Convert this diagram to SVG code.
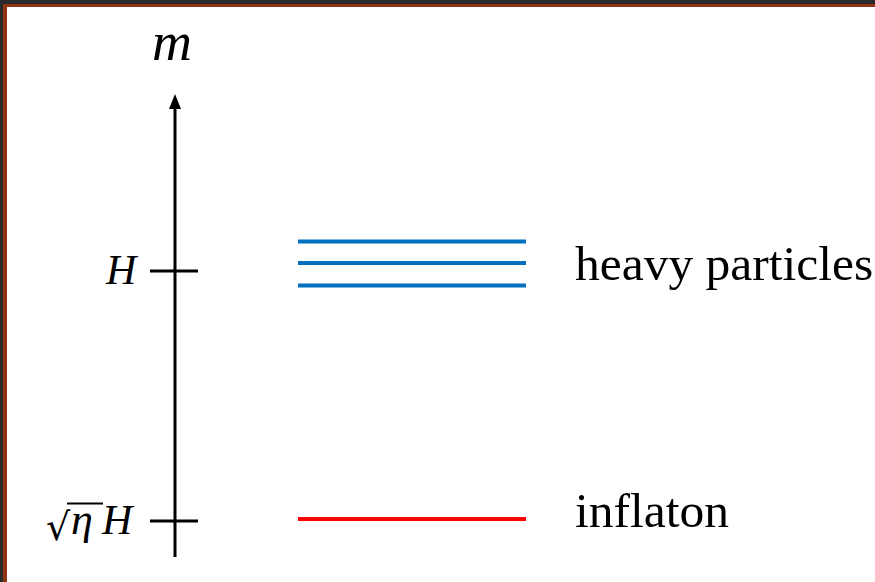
<svg xmlns="http://www.w3.org/2000/svg" width="875" height="582" viewBox="0 0 875 582">
  <style>
    .ax { stroke: #000; stroke-width: 3; fill: none; }
    .heavy { stroke: #0070C0; stroke-width: 4; }
    .infl { stroke: #FF0000; stroke-width: 4; }
    .lbl { font-family: "Liberation Serif", "DejaVu Serif", serif; font-size: 49.5px; fill: #000; }
    .math { font-family: "Liberation Serif", "DejaVu Serif", serif; font-style: italic; fill: #000; }
  </style>
  <rect x="0" y="0" width="875" height="582" fill="#2a2a2a"/>
  <rect x="3" y="4" width="872" height="578" fill="#8f3413"/>
  <rect x="7" y="7" width="868" height="575" fill="#ffffff"/>

  <g id="connectors">
    <line class="ax" x1="175" y1="557" x2="175" y2="106"/>
    <path d="M175,94 L181,109 L169,109 z" fill="#000"/>
  </g>

  <g id="axis-label">
    <text class="math" x="152" y="60" font-size="54" textLength="40" lengthAdjust="spacingAndGlyphs">m</text>
  </g>

  <g id="tick-H">
    <line class="ax" x1="150" y1="271" x2="198" y2="271"/>
    <text class="math" x="106" y="284" font-size="42">H</text>
  </g>

  <g id="tick-sqrt">
    <line class="ax" x1="150" y1="521" x2="198" y2="521"/>
    <text x="46" y="540" font-family="DejaVu Serif, serif" font-size="38" fill="#000">√</text>
    <line x1="67" y1="503.5" x2="103" y2="503.5" stroke="#000" stroke-width="2"/>
    <text class="math" x="71" y="534" font-size="44">η</text>
    <text class="math" x="102" y="534" font-size="42">H</text>
  </g>

  <g id="heavy-particles">
    <line class="heavy" x1="298" y1="241.5" x2="526" y2="241.5"/>
    <line class="heavy" x1="298" y1="263" x2="526" y2="263"/>
    <line class="heavy" x1="298" y1="285.5" x2="526" y2="285.5"/>
    <text class="lbl" x="575" y="280">heavy particles</text>
  </g>

  <g id="inflaton">
    <line class="infl" x1="298" y1="519" x2="526" y2="519"/>
    <text class="lbl" x="575" y="527">inflaton</text>
  </g>
</svg>
